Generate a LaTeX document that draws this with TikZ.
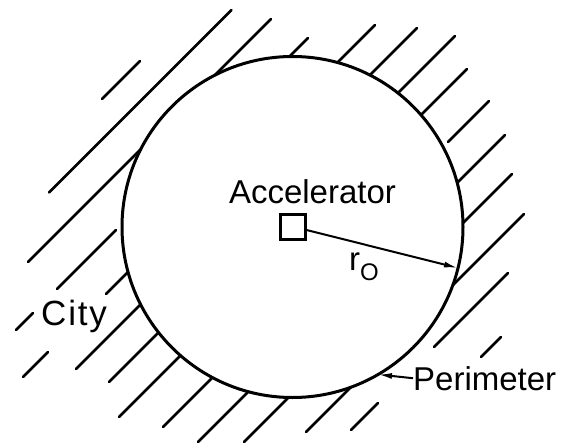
\documentclass[tikz,border=0pt]{standalone}
\usepackage{fontspec}
\setmainfont{Liberation Sans}
\usetikzlibrary{arrows.meta}
\begin{document}
\begin{tikzpicture}[x=1pt,y=-1pt,
  hatch/.style={line width=2.6pt,line cap=round},
  rim/.style={line width=3pt},
  lbl/.style={inner sep=0pt,font=\fontsize{33}{40}\selectfont},
  ptr/.style={line width=2pt,-{Latex[length=14pt,width=6pt]}}]
\useasboundingbox (0,0) rectangle (565,447);
\coordinate (O) at (292.5,227);
\draw[rim] (O) circle[radius=170.5];
% hatching (parallel 45 degree strokes)
\foreach \xa/\ya/\xb/\yb in {
  140/61/102/99,
  231.5/10/49/192.5,
  271/19/214.75/75.25, 140.75/149.25/28/262,
  308/38/289.45/56.55, 116/230/57/289, 33/313/16/330,
  375/25/337.45/62.55, 128.05/271.95/106/294, 48/352/23/377,
  417/28/369.9/75.1, 140.6/304.4/76/369,
  455/36/397.95/93.05, 158.55/332.45/109/382,
  467/69/421/115, 180.5/355.5/119/417,
  489/101/448/142, 212.45/377.55/163/427,
  505/135/457.15/182.85, 248.35/391.65/198/442,
  512/174/462.95/223.05, 288.55/397.45/244/442,
  524/214/452.75/285.25, 350.75/387.25/306/432,
  508/273/434/347, 378/403/351/430,
  501/337/481/357}
  \draw[hatch] (\xa,\ya) -- (\xb,\yb);
% accelerator
\node[draw,line width=3pt,minimum size=25pt,inner sep=0pt] (acc) at (292.5,226.5) {};
\node[lbl,anchor=base] (accl) at (312.5,203) {Accelerator};
\coordinate (rEnd) at ([shift={(13.9:170.5)}]O);
\draw[ptr] (acc) -- (rEnd);
\node[lbl,anchor=base west] (r0) at (349,270) {r\raisebox{-10pt}{\fontsize{24}{28}\selectfont O}};
% labels
\node[lbl,anchor=base] (city) at (74,325) {\fontsize{35}{40}\selectfont\addfontfeature{LetterSpace=5}City};
\node[lbl,anchor=base west] (per) at (413,390) {Perimeter};
\coordinate (pEnd) at ([shift={(59.9:170.5)}]O);
\draw[ptr] (per.west) -- (pEnd);
\end{tikzpicture}
\end{document}
